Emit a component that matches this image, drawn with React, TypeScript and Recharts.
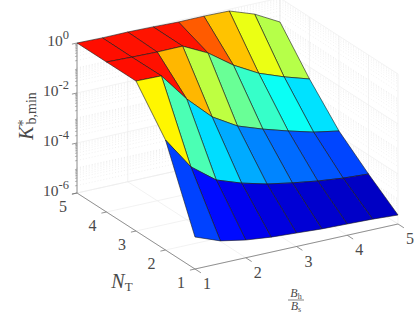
import React from 'react';
import { ScatterChart, Scatter, XAxis, YAxis } from 'recharts';

const ratios = [1, 1.5, 2, 2.5, 3, 3.5, 4, 4.5, 5];
const transmitters = [5, 4, 3, 2, 1];
// log10 of K*_b,min, one list per N_T
const logKAtN5 = [0, -0.02, -0.01, -0.03, -0.06, -0.05, -0.07, -0.42, -0.96];
const logKAtN4 = [0, -0.03, -0.05, -0.04, -0.54, -1.25, -1.8, -2.17, -2.48];
const logKAtN3 = [0, -0.02, -1.17, -2.11, -2.7, -3.05, -3.35, -3.62, -3.8];
const logKAtN2 = [-1.6, -2.9, -3.65, -4, -4.26, -4.44, -4.59, -4.7, -4.76];
const logKAtN1 = [-4.72, -5.1, -5.29, -5.4, -5.46, -5.52, -5.55, -5.58, -5.64];
const surface = [logKAtN5, logKAtN4, logKAtN3, logKAtN2, logKAtN1];
const xTicks = [1, 2, 3, 4, 5];
const yTicks = [1, 2, 3, 4, 5];
const zLabelled = [0, -2, -4, -6];
const zDecades = [-6, -5, -4, -3, -2, -1];
const minorMultipliers = [2, 3, 4, 5, 6, 7, 8, 9];

const W = 415;
const H = 312;
const SERIF = '"Liberation Serif", "Times New Roman", serif';
const INK = '#4a4a4a';
const COLOR_FLOOR = -6.05;
const COLOR_CEIL = 0.966;

const project = (x: number, n: number, z: number) => ({
  sx: 77 + (x - 1) * 50.75 + (5 - n) * 29.5,
  sy: 193 - (x - 1) * 11.25 + (5 - n) * 19 - (z + 6) * 25,
});

const jet = (t: number) => {
  const c = (v: number) => Math.round(255 * Math.min(1, Math.max(0, 1.5 - Math.abs(v))));
  return `rgb(${c(4 * t - 3)},${c(4 * t - 2)},${c(4 * t - 1)})`;
};

const none = () => null;

const Seg = (key: string, pts: { sx: number; sy: number }[], stroke: string, width: number, dash?: string) => (
  <Scatter
    key={key}
    data={pts}
    dataKey="sy"
    isAnimationActive={false}
    shape={none}
    line={{ stroke, strokeWidth: width, fill: 'none', strokeDasharray: dash }}
  />
);

const grid: React.ReactNode[] = [];
const GRID = '#ececec';
const MINOR = '#e0e0e0';
zDecades.forEach((d) => {
  minorMultipliers.forEach((m) => {
    const z = d + Math.log10(m);
    grid.push(Seg(`ml${d}${m}`, [project(1, 5, z), project(5, 5, z)], MINOR, 0.5, '1 2'));
    grid.push(Seg(`mr${d}${m}`, [project(5, 5, z), project(5, 1, z)], MINOR, 0.5, '1 2'));
  });
});
[...zDecades, 0].forEach((z) => {
  const dash = zLabelled.includes(z) ? undefined : '1 2';
  grid.push(Seg(`zl${z}`, [project(1, 5, z), project(5, 5, z)], dash ? MINOR : GRID, 0.7, dash));
  grid.push(Seg(`zr${z}`, [project(5, 5, z), project(5, 1, z)], dash ? MINOR : GRID, 0.7, dash));
});
xTicks.forEach((x) => {
  grid.push(Seg(`xf${x}`, [project(x, 1, -6), project(x, 5, -6)], GRID, 0.7));
  grid.push(Seg(`xw${x}`, [project(x, 5, -6), project(x, 5, 0)], GRID, 0.7));
});
yTicks.forEach((n) => {
  grid.push(Seg(`yf${n}`, [project(1, n, -6), project(5, n, -6)], GRID, 0.7));
  grid.push(Seg(`yw${n}`, [project(5, n, -6), project(5, n, 0)], GRID, 0.7));
});

const axes: React.ReactNode[] = [];
const AXIS = '#777777';
axes.push(Seg('axz', [project(1, 5, -6), project(1, 5, 0)], AXIS, 0.8));
axes.push(Seg('axy', [project(1, 5, -6), project(1, 1, -6)], AXIS, 0.8));
axes.push(Seg('axx', [project(1, 1, -6), project(5, 1, -6)], AXIS, 0.8));
yTicks.forEach((n) => axes.push(Seg(`ty${n}`, [project(1, n, -6), project(0.9, n, -6)], AXIS, 0.8)));
xTicks.forEach((x) => axes.push(Seg(`tx${x}`, [project(x, 1, -6), project(x, 0.8, -6)], AXIS, 0.8)));
zLabelled.forEach((z) => axes.push(Seg(`tz${z}`, [project(1, 5, z), project(0.9, 5, z)], AXIS, 0.8)));
zDecades.forEach((d) =>
  minorMultipliers.forEach((m) => {
    const z = d + Math.log10(m);
    axes.push(Seg(`tm${d}${m}`, [project(1, 5, z), project(0.96, 5, z)], AXIS, 0.5));
  }),
);

const faces: React.ReactNode[] = [];
for (let r = 0; r < transmitters.length - 1; r++) {
  for (let c = ratios.length - 2; c >= 0; c--) {
    const corners = [
      project(ratios[c], transmitters[r], surface[r][c]),
      project(ratios[c + 1], transmitters[r], surface[r][c + 1]),
      project(ratios[c + 1], transmitters[r + 1], surface[r + 1][c + 1]),
      project(ratios[c], transmitters[r + 1], surface[r + 1][c]),
      project(ratios[c], transmitters[r], surface[r][c]),
    ];
    const fill = jet((surface[r + 1][c] - COLOR_FLOOR) / (COLOR_CEIL - COLOR_FLOOR));
    faces.push(
      <Scatter
        key={`f${r}-${c}`}
        data={corners}
        dataKey="sy"
        isAnimationActive={false}
        shape={none}
        line={{ stroke: '#1a1a1a', strokeWidth: 0.6, fill }}
      />,
    );
  }
}

const PlainLabel = (text: string) => (p: any) => (
  <text x={p.cx} y={p.cy} textAnchor="middle" dominantBaseline="central" fontFamily={SERIF} fontSize={16} fill={INK}>
    {text}
  </text>
);

const ZLabel = (exp: number) => (p: any) => (
  <text x={p.cx - 8} y={p.cy + 3} textAnchor="end" fontFamily={SERIF} fontSize={15.5} fill={INK}>
    10
    <tspan dy={-7} fontSize={12.5}>
      {exp === 0 ? '0' : `-${Math.abs(exp)}`}
    </tspan>
  </text>
);

const ZTitle = (p: any) => (
  <text
    transform={`translate(${p.cx} ${p.cy}) rotate(-90)`}
    textAnchor="middle"
    fontFamily={SERIF}
    fontSize={20}
    fill={INK}
  >
    <tspan fontStyle="italic">K</tspan>
    <tspan dy={-5} fontSize={14}>
      *
    </tspan>
    <tspan dy={8} dx={-5} fontSize={14}>
      b,min
    </tspan>
  </text>
);

const NTitle = (p: any) => (
  <text x={p.cx} y={p.cy} textAnchor="middle" fontFamily={SERIF} fontSize={20} fill={INK}>
    <tspan fontStyle="italic">N</tspan>
    <tspan dy={3} fontSize={13}>
      T
    </tspan>
  </text>
);

const RatioTitle = (p: any) => (
  <g fontFamily={SERIF} fill={INK} textAnchor="middle">
    <text x={p.cx} y={p.cy - 3} fontSize={12}>
      <tspan fontStyle="italic">B</tspan>
      <tspan dy={1.5} fontSize={8}>
        h
      </tspan>
    </text>
    <text x={p.cx} y={p.cy + 10} fontSize={12}>
      <tspan fontStyle="italic">B</tspan>
      <tspan dy={1.5} fontSize={8}>
        s
      </tspan>
    </text>
    <line x1={p.cx - 8} x2={p.cx + 8} y1={p.cy} y2={p.cy} stroke={INK} strokeWidth={0.7} />
  </g>
);

const shift = (pt: { sx: number; sy: number }, dx: number, dy: number) => [{ sx: pt.sx + dx, sy: pt.sy + dy }];

const Mark = (key: string, data: { sx: number; sy: number }[], shape: any) => (
  <Scatter key={key} data={data} dataKey="sy" isAnimationActive={false} shape={shape} />
);

export default function App() {
  return (
    <div style={{ position: 'absolute', left: 0, top: 0, width: W, height: H }}>
      <ScatterChart width={W} height={H} margin={{ top: 0, right: 0, bottom: 0, left: 0 }}>
        <XAxis type="number" dataKey="sx" domain={[0, W]} hide allowDataOverflow />
        <YAxis type="number" dataKey="sy" domain={[0, H]} reversed hide allowDataOverflow />
        {grid}
        {axes}
        {faces}
        {xTicks.map((x) => Mark(`lx${x}`, shift(project(x, 1, -6), 12, 14.5), PlainLabel(String(x))))}
        {yTicks.map((n) => Mark(`ly${n}`, shift(project(1, n, -6), -14, 13), PlainLabel(String(n))))}
        {zLabelled.map((z) => Mark(`lz${z}`, [project(1, 5, z)], ZLabel(z)))}
        {Mark('tz', [{ sx: 33, sy: 116 }], ZTitle)}
        {Mark('tn', [{ sx: 122, sy: 288 }], NTitle)}
        {Mark('tr', [{ sx: 296, sy: 300 }], RatioTitle)}
      </ScatterChart>
    </div>
  );
}
